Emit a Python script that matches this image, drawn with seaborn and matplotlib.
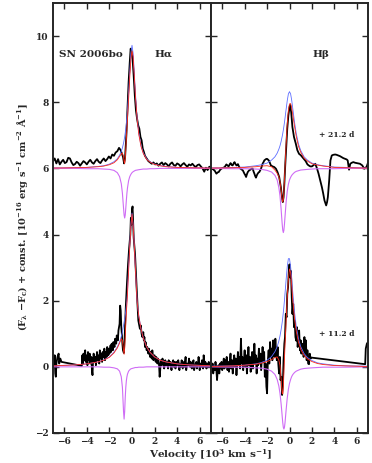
import numpy as np
import matplotlib
matplotlib.use("Agg")
import matplotlib.pyplot as plt
import seaborn as sns

# ---------------- data (velocity in 10^3 km/s, flux + const) ----------------
model_vel = [-7, -5, -4, -3, -2.5, -2, -1.6, -1.3, -1.1, -0.95, -0.85, -0.75, -0.7, -0.65,
             -0.6, -0.55, -0.5, -0.45, -0.4, -0.3, -0.2, -0.1, 0, 0.1, 0.2, 0.3, 0.45, 0.6,
             0.8, 1.0, 1.3, 1.6, 2, 2.5, 3, 4, 5, 7]

# H-alpha, +21.2 d (offset 6)
ha_late_blue = [6.01, 6.02, 6.03, 6.06, 6.08, 6.13, 6.20, 6.29, 6.40, 6.51, 6.62, 6.76, 6.85, 6.95,
                7.07, 7.20, 7.36, 7.55, 7.76, 8.29, 8.91, 9.48, 9.72, 9.48, 8.91, 8.29, 7.55, 7.07,
                6.69, 6.47, 6.29, 6.20, 6.13, 6.08, 6.06, 6.03, 6.02, 6.01]
ha_late_abs = [6.00, 6.00, 5.99, 5.99, 5.98, 5.97, 5.94, 5.87, 5.75, 5.54, 5.25, 4.80, 4.59, 4.50,
               4.59, 4.80, 5.04, 5.25, 5.41, 5.63, 5.75, 5.82, 5.87, 5.90, 5.92, 5.94, 5.95, 5.96,
               5.97, 5.98, 5.98, 5.99, 5.99, 6.00, 6.00, 6.00, 6.00, 6.00]
ha_late_fit = [6.01, 6.02, 6.03, 6.05, 6.07, 6.11, 6.17, 6.26, 6.36, 6.44, 6.46, 6.35, 6.20, 6.15,
               6.30, 6.60, 6.90, 7.20, 7.50, 8.10, 8.75, 9.30, 9.55, 9.38, 8.83, 8.22, 7.50, 7.03,
               6.66, 6.45, 6.27, 6.19, 6.12, 6.08, 6.05, 6.03, 6.02, 6.01]
ha_late_spec = [
    (-7.0, 6.22), (-6.85, 6.30), (-6.7, 6.15), (-6.55, 6.28), (-6.4, 6.12), (-6.25, 6.20),
    (-6.1, 6.26), (-5.95, 6.16), (-5.8, 6.19), (-5.65, 6.32), (-5.5, 6.30), (-5.35, 6.18),
    (-5.2, 6.10), (-5.05, 6.13), (-4.9, 6.20), (-4.75, 6.16), (-4.6, 6.08), (-4.45, 6.15),
    (-4.3, 6.22), (-4.15, 6.18), (-4.0, 6.12), (-3.85, 6.20), (-3.7, 6.26), (-3.55, 6.18),
    (-3.4, 6.14), (-3.25, 6.22), (-3.1, 6.28), (-2.95, 6.20), (-2.8, 6.16), (-2.65, 6.24),
    (-2.5, 6.30), (-2.35, 6.22), (-2.2, 6.28), (-2.05, 6.36), (-1.9, 6.30), (-1.75, 6.42),
    (-1.6, 6.38), (-1.45, 6.48), (-1.3, 6.52), (-1.15, 6.62), (-1.0, 6.55), (-0.9, 6.45),
    (-0.8, 6.35), (-0.7, 6.15), (-0.62, 6.30), (-0.5, 7.0), (-0.4, 7.8), (-0.3, 8.6),
    (-0.2, 9.2), (-0.12, 9.62), (-0.05, 9.55), (0.05, 9.3), (0.15, 8.8), (0.25, 8.2),
    (0.35, 7.75), (0.45, 7.5), (0.55, 7.3), (0.65, 7.2), (0.75, 6.95), (0.85, 6.85),
    (0.95, 6.6), (1.05, 6.5), (1.15, 6.38), (1.3, 6.3), (1.45, 6.22), (1.6, 6.18),
    (1.75, 6.14), (1.9, 6.18), (2.05, 6.12), (2.2, 6.15), (2.35, 6.08), (2.5, 6.14),
    (2.65, 6.18), (2.8, 6.10), (2.95, 6.16), (3.1, 6.12), (3.25, 6.06), (3.4, 6.14),
    (3.55, 6.18), (3.7, 6.10), (3.85, 6.08), (4.0, 6.15), (4.15, 6.12), (4.3, 6.06),
    (4.45, 6.12), (4.6, 6.16), (4.75, 6.10), (4.9, 6.05), (5.05, 6.12), (5.2, 6.09),
    (5.35, 6.14), (5.5, 6.08), (5.65, 6.04), (5.8, 6.10), (5.95, 6.12), (6.1, 6.06),
    (6.25, 6.00), (6.4, 5.90), (6.55, 6.02), (6.7, 5.95), (6.85, 6.05), (7.0, 6.04)]

# H-alpha, +11.2 d (offset 0)
ha_early_blue = [0.03, 0.06, 0.09, 0.15, 0.21, 0.30, 0.44, 0.60, 0.75, 0.92, 1.05, 1.25, 1.35, 1.45,
                 1.55, 1.70, 1.85, 2.00, 2.30, 3.00, 3.70, 4.30, 4.65, 4.30, 3.70, 3.00, 2.00, 1.55,
                 1.15, 0.88, 0.60, 0.44, 0.30, 0.20, 0.15, 0.09, 0.06, 0.03]
ha_early_abs = [0.00, 0.00, 0.00, 0.00, -0.01, -0.01, -0.03, -0.06, -0.13, -0.30, -0.62, -1.35, -1.58, -1.35,
                -0.93, -0.62, -0.42, -0.30, -0.22, -0.13, -0.09, -0.06, -0.05, -0.04, -0.03, -0.02, -0.02, -0.01,
                -0.01, -0.01, 0.00, 0.00, 0.00, 0.00, 0.00, 0.00, 0.00, 0.00]
ha_early_fit = [0.03, 0.06, 0.09, 0.15, 0.20, 0.29, 0.42, 0.57, 0.72, 0.85, 0.80, 0.50, 0.38, 0.55,
                0.90, 1.30, 1.65, 1.90, 2.20, 2.90, 3.62, 4.25, 4.62, 4.27, 3.68, 2.98, 1.98, 1.54,
                1.14, 0.87, 0.60, 0.44, 0.30, 0.20, 0.15, 0.09, 0.06, 0.03]
ha_early_spec = [
    (-7.0, 0.25), (-6.9, 0.05), (-6.85, 0.35), (-6.8, -0.2), (-6.75, -0.3), (-6.7, 0.1),
    (-6.6, 0.3), (-6.5, 0.4), (-6.45, 0.1), (-6.35, 0.25), (-6.25, 0.15),
    (-4.45, 0.03), (-4.4, 0.35), (-4.35, 0.1), (-4.3, 0.4), (-4.2, 0.2), (-4.15, 0.5),
    (-4.1, 0.15), (-4.0, 0.35), (-3.95, 0.05), (-3.9, 0.45), (-3.8, 0.2), (-3.75, 0.4),
    (-3.7, 0.1), (-3.6, 0.3), (-3.55, -0.1), (-3.5, -0.25), (-3.45, 0.2), (-3.4, 0.4),
    (-3.3, 0.15), (-3.25, 0.3), (-3.2, 0.05), (-3.1, 0.45), (-3.05, 0.2), (-3.0, 0.35),
    (-2.9, 0.1), (-2.85, 0.5), (-2.8, 0.25), (-2.7, 0.4), (-2.65, 0.15), (-2.6, 0.45),
    (-2.5, 0.3), (-2.45, 0.55), (-2.4, 0.2), (-2.3, 0.45), (-2.25, 0.3), (-2.2, 0.6),
    (-2.1, 0.35), (-2.05, 0.55), (-2.0, 0.4), (-1.9, 0.65), (-1.85, 0.45), (-1.8, 0.7),
    (-1.7, 0.5), (-1.65, 0.75), (-1.55, 0.6), (-1.5, 0.85), (-1.4, 0.7), (-1.35, 0.95),
    (-1.25, 0.8), (-1.2, 1.1), (-1.1, 1.3), (-1.05, 1.85), (-1.0, 1.7), (-0.95, 1.2),
    (-0.9, 1.0), (-0.85, 0.7), (-0.8, 0.5), (-0.72, 0.42), (-0.65, 0.9), (-0.55, 1.8),
    (-0.45, 2.5), (-0.35, 3.1), (-0.25, 3.6), (-0.15, 4.0), (-0.1, 4.5), (-0.05, 4.3),
    (0.0, 4.75), (0.05, 4.85), (0.1, 4.4), (0.15, 3.9), (0.2, 3.7), (0.27, 3.4),
    (0.35, 2.8), (0.41, 2.4), (0.5, 1.8), (0.56, 1.4), (0.62, 1.3), (0.7, 1.15),
    (0.78, 1.25), (0.85, 1.0), (0.92, 0.9), (1.0, 1.05), (1.05, 0.8), (1.1, 0.9),
    (1.15, 0.6), (1.2, 0.75), (1.3, 0.5), (1.35, 0.6), (1.45, 0.4), (1.5, 0.55),
    (1.6, 0.3), (1.65, 0.45), (1.75, 0.25), (1.8, 0.5), (1.9, 0.2), (2.0, 0.35),
    (2.1, 0.15), (2.15, 0.3), (2.25, 0.1), (2.3, 0.25), (2.4, 0.05), (2.45, -0.3),
    (2.5, -0.1), (2.55, 0.2), (2.65, 0.05), (2.7, 0.25), (2.8, 0.1), (2.85, -0.05),
    (2.95, 0.2), (3.0, 0.05), (3.1, 0.15), (3.2, -0.05), (3.25, 0.2), (3.35, 0.05),
    (3.4, 0.15), (3.5, -0.1), (3.55, 0.1), (3.65, 0.2), (3.7, 0.0), (3.8, 0.15),
    (3.85, -0.05), (3.95, 0.15), (4.0, 0.05), (4.1, 0.2), (4.2, -0.1), (4.25, 0.1),
    (4.35, 0.0), (4.4, 0.2), (4.5, -0.05), (4.6, 0.15), (4.65, 0.0), (4.75, 0.3),
    (4.8, -0.1), (4.9, 0.1), (5.0, 0.05), (5.05, 0.25), (5.15, 0.0), (5.2, 0.15),
    (5.3, -0.05), (5.35, 0.1), (5.45, 0.2), (5.5, -0.1), (5.6, 0.05), (5.7, 0.15),
    (5.75, -0.05), (5.85, 0.1), (5.9, 0.3), (6.0, -0.1), (6.05, 0.1), (6.15, 0.0),
    (6.2, 0.2), (6.3, -0.05), (6.35, 0.35), (6.45, 0.0), (6.5, 0.15), (6.6, -0.05),
    (6.65, 0.1), (6.75, 0.0), (6.8, 0.15), (6.9, 0.0), (7.0, 0.1)]

# H-beta, +21.2 d (offset 6)
hb_late_blue = [6.01, 6.03, 6.04, 6.08, 6.11, 6.16, 6.25, 6.35, 6.46, 6.58, 6.68, 6.81, 6.89, 6.97,
                7.06, 7.16, 7.27, 7.39, 7.52, 7.79, 8.05, 8.25, 8.32, 8.25, 8.05, 7.79, 7.39, 7.06,
                6.74, 6.54, 6.35, 6.25, 6.16, 6.11, 6.08, 6.04, 6.03, 6.01]
hb_late_abs = [6.00, 5.99, 5.99, 5.98, 5.97, 5.94, 5.89, 5.79, 5.65, 5.42, 5.17, 4.78, 4.54, 4.31,
               4.13, 4.06, 4.13, 4.31, 4.54, 4.99, 5.31, 5.52, 5.65, 5.73, 5.79, 5.83, 5.88, 5.91,
               5.93, 5.95, 5.96, 5.97, 5.98, 5.99, 5.99, 5.99, 6.00, 6.00]
hb_late_fit = [6.01, 6.02, 6.03, 6.05, 6.07, 6.08, 6.05, 5.95, 5.85, 5.75, 5.60, 5.35, 5.20, 5.05,
               4.98, 5.05, 5.30, 5.65, 6.00, 6.75, 7.35, 7.75, 7.95, 7.96, 7.82, 7.60, 7.27, 6.97,
               6.67, 6.49, 6.31, 6.22, 6.14, 6.10, 6.07, 6.03, 6.02, 6.01]
hb_late_spec = [
    (-6.96, 5.99), (-6.8, 5.97), (-6.65, 5.92), (-6.52, 5.84), (-6.4, 5.88), (-6.31, 5.89),
    (-6.2, 5.95), (-6.08, 5.99), (-5.9, 6.02), (-5.78, 6.04), (-5.63, 6.12), (-5.5, 6.08),
    (-5.43, 6.06), (-5.3, 6.14), (-5.25, 6.16), (-5.15, 6.10), (-5.07, 6.09), (-4.95, 6.17),
    (-4.9, 6.19), (-4.8, 6.12), (-4.72, 6.09), (-4.6, 6.13), (-4.55, 6.09), (-4.45, 6.02),
    (-4.37, 5.99), (-4.25, 5.96), (-4.16, 5.94), (-4.08, 5.88), (-4.02, 5.84), (-3.95, 5.80),
    (-3.87, 5.74), (-3.8, 5.82), (-3.72, 5.89), (-3.6, 5.94), (-3.49, 5.96), (-3.38, 5.99),
    (-3.28, 5.99), (-3.2, 5.90), (-3.13, 5.84), (-3.05, 5.76), (-2.99, 5.72), (-2.9, 5.80),
    (-2.84, 5.84), (-2.75, 5.88), (-2.69, 5.89), (-2.6, 5.95), (-2.54, 5.99), (-2.45, 6.08),
    (-2.4, 6.14), (-2.3, 6.20), (-2.25, 6.24), (-2.1, 6.28), (-2.01, 6.29), (-1.9, 6.26),
    (-1.81, 6.22), (-1.7, 6.12), (-1.66, 6.09), (-1.51, 6.06), (-1.36, 6.04), (-1.21, 5.99),
    (-1.07, 5.89), (-0.92, 5.74), (-0.77, 5.43), (-0.68, 5.15), (-0.6, 4.98), (-0.53, 5.13),
    (-0.45, 5.6), (-0.38, 6.1), (-0.3, 6.6), (-0.2, 7.2), (-0.1, 7.6), (0.0, 7.85),
    (0.06, 7.92), (0.15, 7.7), (0.26, 7.25), (0.4, 6.95), (0.56, 6.75), (0.7, 6.55),
    (0.85, 6.44), (1.0, 6.40), (1.15, 6.34), (1.3, 6.28), (1.44, 6.22), (1.6, 6.12),
    (1.71, 6.09), (1.85, 6.06), (2.0, 6.06), (2.15, 6.10), (2.3, 6.14), (2.45, 6.00),
    (2.59, 5.84), (2.75, 5.62), (2.89, 5.43), (3.0, 5.25), (3.12, 5.03), (3.27, 4.88),
    (3.35, 4.98), (3.42, 5.13), (3.54, 5.64), (3.65, 6.24), (3.77, 6.39), (3.9, 6.41),
    (4.07, 6.42), (4.2, 6.41), (4.36, 6.39), (4.5, 6.37), (4.65, 6.34), (4.8, 6.31),
    (4.96, 6.29), (5.1, 6.27), (5.19, 6.24), (5.25, 6.10), (5.31, 5.96), (5.37, 6.05),
    (5.42, 6.14), (5.55, 6.17), (5.69, 6.19), (5.85, 6.17), (5.98, 6.16), (6.1, 6.15),
    (6.28, 6.14), (6.4, 6.11), (6.49, 6.09), (6.58, 6.04), (6.66, 5.99), (6.75, 6.02),
    (6.87, 6.04), (6.95, 6.12), (7.02, 6.19)]

# H-beta, +11.2 d (offset 0)
hb_early_blue = [0.02, 0.03, 0.05, 0.09, 0.13, 0.20, 0.31, 0.46, 0.61, 0.78, 0.93, 1.12, 1.23, 1.35,
                 1.49, 1.65, 1.82, 2.01, 2.22, 2.64, 3.03, 3.27, 3.27, 3.03, 2.64, 2.22, 1.65, 1.23,
                 0.85, 0.61, 0.40, 0.28, 0.19, 0.12, 0.09, 0.05, 0.03, 0.02]
hb_early_abs = [0.00, -0.01, -0.01, -0.03, -0.04, -0.07, -0.13, -0.23, -0.38, -0.58, -0.80, -1.11, -1.30, -1.50,
                -1.69, -1.83, -1.88, -1.83, -1.69, -1.30, -0.94, -0.68, -0.50, -0.38, -0.29, -0.23, -0.17, -0.13,
                -0.10, -0.07, -0.05, -0.04, -0.03, -0.02, -0.01, -0.01, -0.01, 0.00]
hb_early_fit = [0.01, 0.03, 0.05, 0.08, 0.11, 0.16, 0.22, 0.28, 0.30, 0.20, 0.05, -0.35, -0.60, -0.80,
                -0.82, -0.60, -0.20, 0.25, 0.65, 1.40, 2.10, 2.65, 2.96, 2.85, 2.45, 2.00, 1.45, 1.08,
                0.75, 0.53, 0.34, 0.24, 0.16, 0.10, 0.07, 0.04, 0.03, 0.01]
hb_early_spec = [
    (-7.0, 0.05), (-6.93, -0.15), (-6.86, 0.1), (-6.8, -0.2), (-6.73, 0.0), (-6.66, -0.1),
    (-6.6, 0.15), (-6.53, -0.05), (-6.46, -0.4), (-6.4, -0.1), (-6.33, 0.05), (-6.26, -0.2),
    (-6.2, 0.1), (-6.13, -0.05), (-6.06, 0.15), (-6.0, -0.1), (-5.93, 0.05), (-5.86, 0.25),
    (-5.8, -0.05), (-5.73, 0.2), (-5.66, 0.0), (-5.6, 0.3), (-5.53, -0.1), (-5.46, 0.15),
    (-5.4, -0.15), (-5.33, 0.1), (-5.26, 0.4), (-5.2, -0.05), (-5.13, 0.2), (-5.06, -0.2),
    (-5.0, 0.15), (-4.93, 0.35), (-4.86, 0.0), (-4.8, 0.25), (-4.73, -0.25), (-4.66, 0.1),
    (-4.6, 0.45), (-4.53, 0.05), (-4.46, 0.3), (-4.4, -0.05), (-4.33, 0.85), (-4.26, 0.1),
    (-4.2, 0.3), (-4.13, -0.1), (-4.06, 0.2), (-4.0, 0.5), (-3.93, 0.0), (-3.86, 0.35),
    (-3.8, -0.2), (-3.73, 0.15), (-3.66, 0.6), (-3.6, 0.05), (-3.53, 0.3), (-3.46, -0.15),
    (-3.4, 0.2), (-3.33, 0.45), (-3.26, -0.05), (-3.2, 0.25), (-3.13, 0.7), (-3.06, 0.1),
    (-3.0, 0.35), (-2.93, -0.2), (-2.86, 0.25), (-2.8, 0.05), (-2.73, 0.55), (-2.66, 0.1),
    (-2.6, 0.4), (-2.53, -0.1), (-2.46, 0.3), (-2.4, 0.6), (-2.33, 0.15), (-2.26, 0.45),
    (-2.2, -0.3), (-2.13, 0.1), (-2.06, -0.6), (-2.0, -0.8), (-1.93, 0.2), (-1.86, 0.5),
    (-1.8, 0.1), (-1.73, 0.75), (-1.66, 0.3), (-1.6, 0.55), (-1.53, 0.2), (-1.46, 0.8),
    (-1.4, 0.4), (-1.33, 0.3), (-1.26, 0.85), (-1.2, 0.45), (-1.13, 0.2), (-1.06, 0.6),
    (-1.0, 0.1), (-0.93, -0.2), (-0.86, 0.3), (-0.8, -0.4), (-0.73, -0.3), (-0.66, -0.85),
    (-0.6, -0.6), (-0.53, 0.2), (-0.46, 0.7), (-0.4, 0.9), (-0.33, 1.6), (-0.26, 1.5),
    (-0.2, 2.2), (-0.13, 2.4), (-0.06, 2.9), (0.0, 3.1), (0.06, 2.7), (0.13, 2.9),
    (0.2, 2.1), (0.26, 1.6), (0.33, 1.9), (0.4, 1.2), (0.46, 1.4), (0.53, 0.9),
    (0.6, 0.79), (0.66, 1.2), (0.73, 0.6), (0.8, 1.0), (0.86, 1.1), (0.93, 0.5),
    (1.0, 0.8), (1.06, 0.4), (1.13, 0.7), (1.2, 0.55), (1.26, 0.3), (1.33, 0.9),
    (1.4, 0.35), (1.46, 0.8), (1.53, 0.2), (1.6, 0.5), (1.66, 0.1), (1.74, 0.08),
    (1.8, 0.4), (1.88, 0.25), (1.94, 0.28), (6.75, 0.08), (6.8, 0.55), (6.9, 0.7),
    (7.0, 0.75)]

panel_titles = ["H$\\alpha$", "H$\\beta$"]
epoch_labels = ["+ 21.2 d", "+ 11.2 d"]
object_name = "SN 2006bo"
x_ticks = [-6, -4, -2, 0, 2, 4, 6]
y_ticks = [-2, 0, 2, 4, 6, 8, 10]

# ---------------- style ----------------
sns.set_style("ticks")
plt.rcParams["font.family"] = ["DejaVu Serif"]
plt.rcParams["font.weight"] = "bold"
plt.rcParams["mathtext.fontset"] = "dejavuserif"
plt.rcParams["mathtext.default"] = "bf"

C_SPEC = "black"
C_EMIS = "#5c6dff"
C_FIT = "#ff2a1a"
C_ABS = "#cf6cf5"

fig = plt.figure(figsize=(3.72, 4.63), dpi=100)
axL = fig.add_axes([53 / 372, 30 / 463, 158 / 372, 430 / 463])
axR = fig.add_axes([211 / 372, 30 / 463, 157 / 372, 430 / 463])


def draw_panel(ax, sets):
    for spec, emis, absn, fit in sets:
        sv, sf = np.array(spec).T
        sns.lineplot(x=sv, y=sf, ax=ax, color=C_SPEC, lw=1.3, estimator=None, sort=False)
        sns.lineplot(x=model_vel, y=emis, ax=ax, color=C_EMIS, lw=0.6, estimator=None, sort=False)
        sns.lineplot(x=model_vel, y=absn, ax=ax, color=C_ABS, lw=0.8, estimator=None, sort=False)
        sns.lineplot(x=model_vel, y=fit, ax=ax, color=C_FIT, lw=0.6, estimator=None, sort=False)


draw_panel(axL, [(ha_late_spec, ha_late_blue, ha_late_abs, ha_late_fit),
                 (ha_early_spec, ha_early_blue, ha_early_abs, ha_early_fit)])
draw_panel(axR, [(hb_late_spec, hb_late_blue, hb_late_abs, hb_late_fit),
                 (hb_early_spec, hb_early_blue, hb_early_abs, hb_early_fit)])

for ax in (axL, axR):
    ax.set_xlim(-7, 7)
    ax.set_ylim(-2, 11)
    ax.set_xticks(x_ticks)
    ax.set_yticks(y_ticks)
    ax.set_xlabel("")
    ax.set_ylabel("")
    ax.tick_params(direction="in", top=True, right=True, length=4, width=1.0,
                   labelsize=6.5, pad=3)
    for sp in ax.spines.values():
        sp.set_visible(True)
        sp.set_linewidth(1.4)
    for lab in ax.get_xticklabels() + ax.get_yticklabels():
        lab.set_fontweight("bold")

axR.tick_params(labelleft=False)

axL.text(-6.5, 9.45, object_name, fontsize=7.5, fontweight="bold", va="center", ha="left")
axL.text(1.95, 9.45, panel_titles[0], fontsize=7.5, fontweight="bold", va="center", ha="left")
axR.text(2.0, 9.45, panel_titles[1], fontsize=7.5, fontweight="bold", va="center", ha="left")
axR.text(2.6, 7.0, epoch_labels[0], fontsize=5.5, fontweight="bold", va="center", ha="left")
axR.text(2.6, 1.0, epoch_labels[1], fontsize=5.5, fontweight="bold", va="center", ha="left")

fig.text(211 / 372, 8 / 463, r"Velocity [10$^{3}$ km s$^{-1}$]", ha="center", va="center",
         fontsize=7.5, fontweight="bold")
fig.text(23 / 372, 246 / 463,
         r"(F$_{\lambda}$ $-$F$_{\rm c}$) + const. [10$^{-16}$ erg s$^{-1}$ cm$^{-2}$ $\rm\AA^{-1}$]",
         ha="center", va="center", rotation=90, fontsize=7.0, fontweight="bold")

fig.savefig("out.png", dpi=100)
